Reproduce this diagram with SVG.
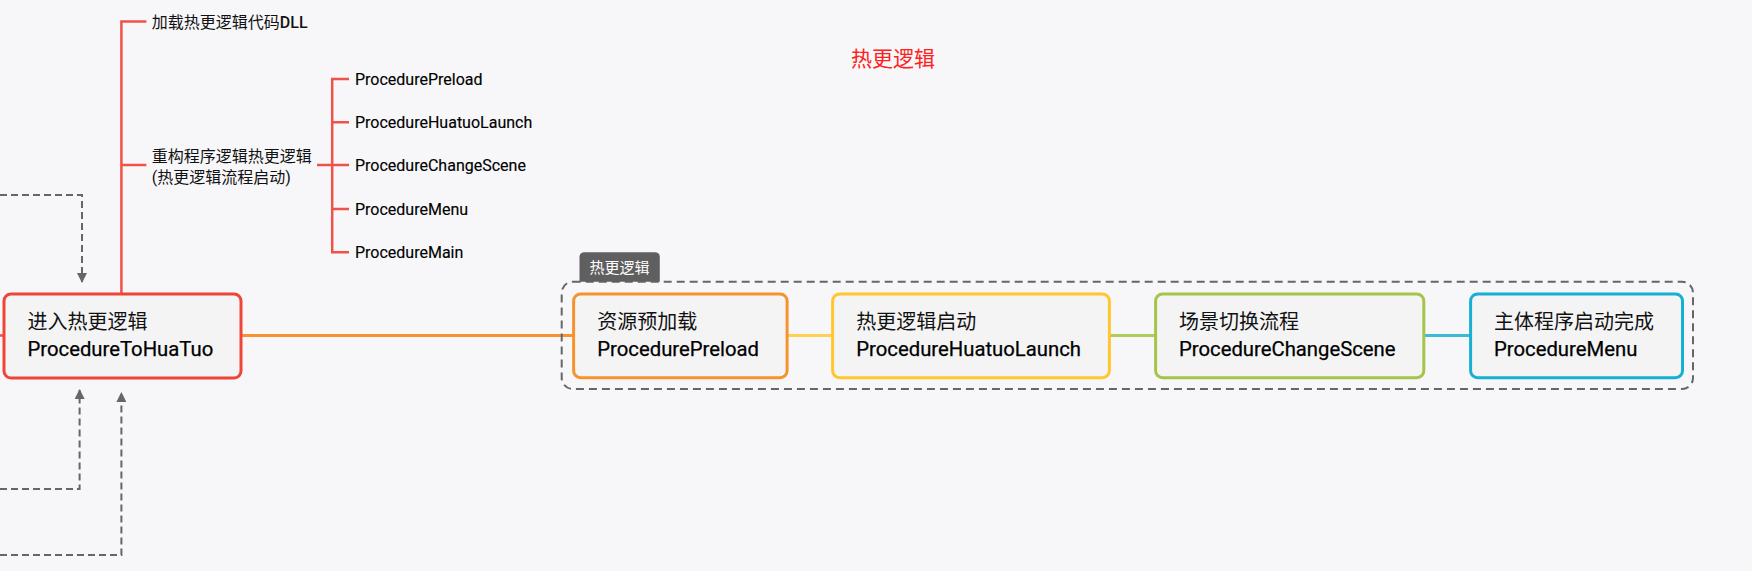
<svg xmlns="http://www.w3.org/2000/svg" width="1752" height="571" viewBox="0 0 1752 571">
<defs>
<style>
.bg{fill:#f7f7f9}
.node{fill:#f4f4f5;stroke-width:3}
.cn{font-family:Roboto,"Noto Sans CJK SC",sans-serif;font-size:20px;fill:#111}
.en{font-family:Roboto,"Noto Sans CJK SC",sans-serif;font-size:20.3px;fill:#000;stroke:#000;stroke-width:0.25}
.sm{font-family:Roboto,"Noto Sans CJK SC",sans-serif;font-size:16px;fill:#000;stroke:#000;stroke-width:0.15}
.smc{font-family:Roboto,"Noto Sans CJK SC",sans-serif;font-size:16px;fill:#111}
.tree{fill:none;stroke:#f0524a;stroke-width:2.5}
.dash{fill:none;stroke:#666;stroke-width:2;stroke-dasharray:7 4}
.link{fill:none;stroke-width:3}
</style>
<marker id="arr" viewBox="0 0 10 10" refX="9" refY="5" markerWidth="5" markerHeight="5" orient="auto" markerUnits="strokeWidth">
<path d="M0,0 L10,5 L0,10 Z" fill="#666"/>
</marker>
</defs>
<rect class="bg" x="0" y="0" width="1752" height="571"/>

<g id="title">
<text x="893" y="66" text-anchor="middle" font-family="Roboto,'Noto Sans CJK SC',sans-serif" font-size="21" fill="#ff2020">热更逻辑</text>
</g>

<g id="connectors">
<path class="tree" d="M121.4,294 V21.5 H146.4"/>
<path class="tree" d="M121.4,165 H146.4"/>
<path class="tree" d="M317,165 H332.2"/>
<path class="tree" d="M349,79 H332.2 V252.3 H349"/>
<path class="tree" d="M332.2,122.3 H349 M332.2,165 H349 M332.2,209 H349"/>
<path class="tree" d="M0,335.5 H4"/>
<path class="dash" d="M0,195 H82 V282" marker-end="url(#arr)"/>
<path class="dash" d="M0,489 H79.6 V390" marker-end="url(#arr)"/>
<path class="dash" d="M0,555 H121.4 V393" marker-end="url(#arr)"/>
<path class="link" stroke="#f7922e" d="M241,335.5 H573.6"/>
<path class="link" stroke="#ffd152" d="M787.1,335.5 H832.6"/>
<path class="link" stroke="#aecb5a" d="M1109.4,335.5 H1155.6"/>
<path class="link" stroke="#3bbbd8" d="M1423.8,335.5 H1470.6"/>
</g>

<g id="n-load-dll">
<text class="smc" x="151.8" y="27.5">加载热更逻辑代码<tspan font-weight="500">DLL</tspan></text>
</g>
<g id="n-refactor">
<text class="smc" x="151.8" y="161.7">重构程序逻辑热更逻辑</text>
<text class="smc" x="151.8" y="182.7">(热更逻辑流程启动)</text>
</g>
<g id="n-l-preload"><text class="sm" x="355" y="84.7">ProcedurePreload</text></g>
<g id="n-l-launch"><text class="sm" x="355" y="128">ProcedureHuatuoLaunch</text></g>
<g id="n-l-change"><text class="sm" x="355" y="170.7">ProcedureChangeScene</text></g>
<g id="n-l-menu"><text class="sm" x="355" y="214.7">ProcedureMenu</text></g>
<g id="n-l-main"><text class="sm" x="355" y="258">ProcedureMain</text></g>

<g id="n-tohuatuo">
<rect class="node" x="4" y="294" width="237" height="84" rx="7" stroke="#ef4438"/>
<text class="cn" x="27.5" y="329">进入热更逻辑</text>
<text class="en" x="27.5" y="356">ProcedureToHuaTuo</text>
</g>

<g id="group-hot">
<rect x="561.7" y="281.7" width="1131.3" height="107.3" rx="11" fill="none" stroke="#666" stroke-width="2" stroke-dasharray="8 5"/>
<path d="M579.5,281.7 V257.3 Q579.5,252.3 584.5,252.3 H654.8 Q659.8,252.3 659.8,257.3 V281.7 Z" fill="#5f5f5f"/>
<text x="619.6" y="272.5" text-anchor="middle" font-family="Roboto,'Noto Sans CJK SC',sans-serif" font-size="15" fill="#fff">热更逻辑</text>
</g>

<g id="n-preload">
<rect class="node" x="573.6" y="294" width="213.5" height="83.7" rx="7" stroke="#f7922e"/>
<text class="cn" x="597.3" y="329">资源预加载</text>
<text class="en" x="597.3" y="355.5">ProcedurePreload</text>
</g>
<g id="n-launch">
<rect class="node" x="832.6" y="294" width="276.8" height="83.7" rx="7" stroke="#ffc62e"/>
<text class="cn" x="856.3" y="329">热更逻辑启动</text>
<text class="en" x="856.3" y="355.5">ProcedureHuatuoLaunch</text>
</g>
<g id="n-change">
<rect class="node" x="1155.6" y="294" width="268.2" height="83.7" rx="7" stroke="#a5c44a"/>
<text class="cn" x="1179" y="329">场景切换流程</text>
<text class="en" x="1179" y="355.5">ProcedureChangeScene</text>
</g>
<g id="n-menu">
<rect class="node" x="1470.6" y="294" width="211.9" height="83.7" rx="7" stroke="#16b0d4"/>
<text class="cn" x="1494" y="329">主体程序启动完成</text>
<text class="en" x="1494" y="355.5">ProcedureMenu</text>
</g>
</svg>
